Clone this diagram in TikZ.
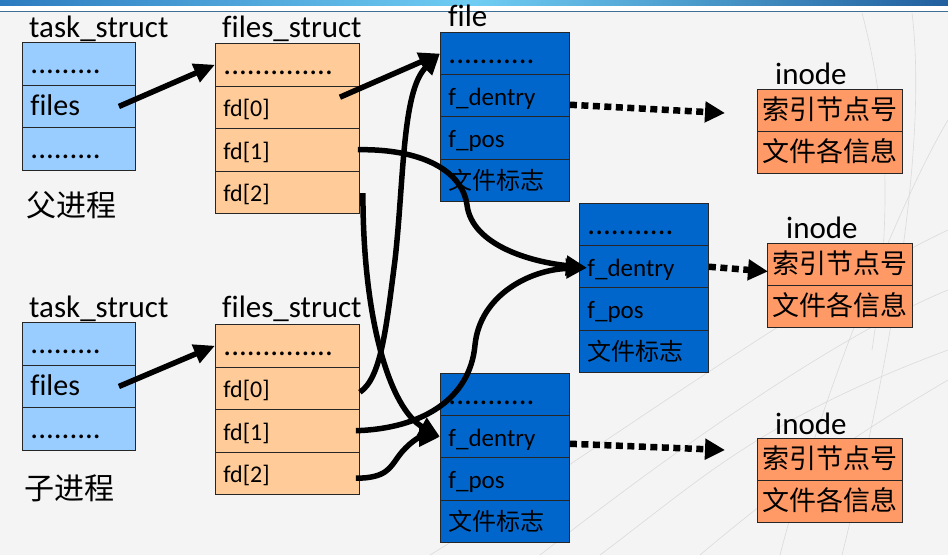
\documentclass[tikz,border=0pt]{standalone}
\usepackage{fontspec}
\setmainfont{Carlito}[Ligatures={NoCommon}]
\newfontfamily\cjk{Noto Sans CJK SC}
\usetikzlibrary{arrows.meta,calc}
\definecolor{taskc}{HTML}{99CCFF}
\definecolor{filesc}{HTML}{FFCC99}
\definecolor{filec}{HTML}{0066CC}
\definecolor{inodec}{HTML}{FF9966}
\definecolor{bgc}{HTML}{F4F4F4}
\definecolor{bandl}{HTML}{2C7BC0}
\definecolor{bandm}{HTML}{6FCDF3}
\definecolor{bandr}{HTML}{215F9E}
\definecolor{bandline}{HTML}{3E6F94}
\begin{document}
\begin{tikzpicture}[x=1pt,y=-1pt,
  cell/.style={draw=black!85, line width=0.9pt, anchor=north west, inner xsep=8pt,
    inner ysep=0pt, text height=19pt, text depth=0pt, align=left},
  taskcell/.style={cell, fill=taskc, text width=97pt, minimum height=42.67pt},
  filescell/.style={cell, fill=filesc, text width=128pt, minimum height=42.5pt},
  filecell/.style={cell, fill=filec, text width=113pt, minimum height=42.2pt},
  inodecell/.style={draw=black!85, line width=0.9pt, anchor=north west, inner sep=0pt,
    text height=19pt, text depth=0pt, fill=inodec, minimum width=145pt, minimum height=42pt,
    font=\cjk\fontsize{27pt}{27pt}\selectfont},
  lab/.style={inner sep=0pt, anchor=base west, font=\fontsize{31pt}{31pt}\selectfont},
  proc/.style={inner sep=0pt, anchor=west, font=\cjk\fontsize{30pt}{30pt}\selectfont},
  dotf/.style={font=\fontsize{31pt}{31pt}\selectfont},
  bigf/.style={font=\fontsize{30pt}{30pt}\selectfont},
  fdf/.style={font=\fontsize{24pt}{24pt}\selectfont},
  frf/.style={font=\fontsize{25pt}{25pt}\selectfont},
  cjf/.style={font=\cjk\fontsize{24pt}{24pt}\selectfont},
  ptr/.style={line width=5.5pt, -{Triangle[length=21pt,width=19pt]}},
  dotarrow/.style={line width=6.5pt, dash pattern=on 7pt off 4.5pt, -{Triangle[length=20pt,width=20pt]}},
  bgline/.style={draw=black!14, line width=0.6pt}
]
\useasboundingbox (0,0) rectangle (948,555);
% background
\fill[bgc] (0,0) rectangle (948,555);
\shade[left color=bandl, right color=bandr, middle color=bandm] (0,0) rectangle (948,5.5);
\fill[white] (0,5.5) rectangle (948,10.5);
\draw[bandline, line width=1.3pt] (0,11.5) -- (948,11.5);
\draw[bgline] (430,555) .. controls (600,450) and (800,300) .. (948,230);
\draw[bgline] (540,555) .. controls (700,430) and (850,330) .. (948,290);
\draw[bgline] (700,555) .. controls (800,470) and (880,420) .. (948,380);
\draw[bgline] (780,555) .. controls (820,400) and (900,200) .. (948,120);
\draw[bgline] (862,13) .. controls (885,100) and (895,200) .. (872,350);
\draw[bgline] (912,13) .. controls (925,120) and (905,300) .. (842,555);
\draw[bgline] (600,555) .. controls (700,480) and (760,420) .. (948,350);

% ---- parent task_struct
\node[lab] (lpt) at (29,37) {task\_struct};
\node[taskcell, dotf] (pt1) at (22,42) {.........};
\node[taskcell, bigf] (pt2) at (22,84.67) {files};
\node[taskcell, dotf] (pt3) at (22,127.33) {.........};
\node[proc] (ppar) at (26,205) {父进程};

% ---- parent files_struct
\node[lab] (lpf) at (222,37) {files\_struct};
\node[filescell, dotf] (pf0) at (215,43) {..............};
\node[filescell, fdf] (pf1) at (215,85.5) {fd[0]};
\node[filescell, fdf] (pf2) at (215,128) {fd[1]};
\node[filescell, fdf] (pf3) at (215,170.5) {fd[2]};

% ---- child task_struct
\node[lab] (lct) at (29,317) {task\_struct};
\node[taskcell, dotf] (ct1) at (22,322) {.........};
\node[taskcell, bigf] (ct2) at (22,364.67) {files};
\node[taskcell, dotf] (ct3) at (22,407.33) {.........};
\node[proc] (pchild) at (24,488) {子进程};

% ---- child files_struct
\node[lab] (lcf) at (222,317) {files\_struct};
\node[filescell, dotf] (cf0) at (215,324) {..............};
\node[filescell, fdf] (cf1) at (215,366.5) {fd[0]};
\node[filescell, fdf] (cf2) at (215,409) {fd[1]};
\node[filescell, fdf] (cf3) at (215,451.5) {fd[2]};

% ---- file A
\node[lab] (lfa) at (448,26) {file};
\node[filecell, dotf] (fa0) at (440,32) {...........};
\node[filecell, frf] (fa1) at (440,74.2) {f\_dentry};
\node[filecell, frf] (fa2) at (440,116.4) {f\_pos};
\node[filecell, cjf] (fa3) at (440,158.6) {文件标志};

% ---- file B
\node[filecell, dotf] (fb0) at (579,203) {...........};
\node[filecell, frf] (fb1) at (579,245.2) {f\_dentry};
\node[filecell, frf] (fb2) at (579,287.4) {f\_pos};
\node[filecell, cjf] (fb3) at (579,329.6) {文件标志};

% ---- file C
\node[filecell, dotf] (fc0) at (440,373) {...........};
\node[filecell, frf] (fc1) at (440,415.2) {f\_dentry};
\node[filecell, frf] (fc2) at (440,457.4) {f\_pos};
\node[filecell, cjf] (fc3) at (440,499.6) {文件标志};

% ---- inodes
\node[lab] (lia) at (775,84) {inode};
\node[inodecell] (ia1) at (757,89) {索引节点号};
\node[inodecell] (ia2) at (757,131) {文件各信息};
\node[lab] (lib) at (786,238.5) {inode};
\node[inodecell] (ib1) at (767,243) {索引节点号};
\node[inodecell] (ib2) at (767,285) {文件各信息};
\node[lab] (lic) at (775,434.5) {inode};
\node[inodecell] (ic1) at (757,438) {索引节点号};
\node[inodecell] (ic2) at (757,480) {文件各信息};

% ---- pointers
\draw[ptr] ($(pt2.east)+(-17,0)$) -- (pf0.west);
\draw[ptr] ($(ct2.east)+(-17,0)$) -- (cf0.west);
\draw[ptr] ($(pf1.east)+(-20,-10)$) -- (fa0.west);
\coordinate (v1) at (467,205);
\draw[ptr] ($(pf2.east)+(-2,0)$) .. controls +(63,-1) and +(-5,-35) .. (v1)
  .. controls +(5,40) and +(-57,-6) .. ($(fb1.west)+(8,1)$);
\draw[ptr] ($(pf3.east)+(3,1)$) .. controls +(0,127) and +(-50,-28) .. (fc1.west);
\coordinate (v2) at (395,260);
\draw[ptr] ($(cf1.east)+(0,4)$) .. controls +(21,-14) and +(-9,70) .. (v2)
  .. controls +(9,-80) and +(-38,37) .. (fa0.west);
\coordinate (v3) at (475,345);
\draw[ptr] ($(cf2.east)+(-4,0)$) .. controls +(65,-2) and +(-5,55) .. (v3)
  .. controls +(5,-50) and +(-57,2) .. ($(fb1.west)+(8,1)$);
\coordinate (v4) at (398,457);
\draw[ptr] ($(cf3.east)+(-4,5)$) .. controls +(30,0) and +(-8,11) .. (v4)
  .. controls +(10,-14) and +(-20,0) .. (fc1.west);

% ---- dotted arrows to inodes
\coordinate (da) at (725,113);
\coordinate (dc) at (725,450);
\draw[dotarrow] ($(fa1.east)+(0,9)$) -- (da);
\draw[dotarrow] ($(fb1.east)+(0,0)$) -- ($(ib1.west)+(1,7)$);
\draw[dotarrow] ($(fc1.east)+(0,7)$) -- (dc);
\end{tikzpicture}
\end{document}
